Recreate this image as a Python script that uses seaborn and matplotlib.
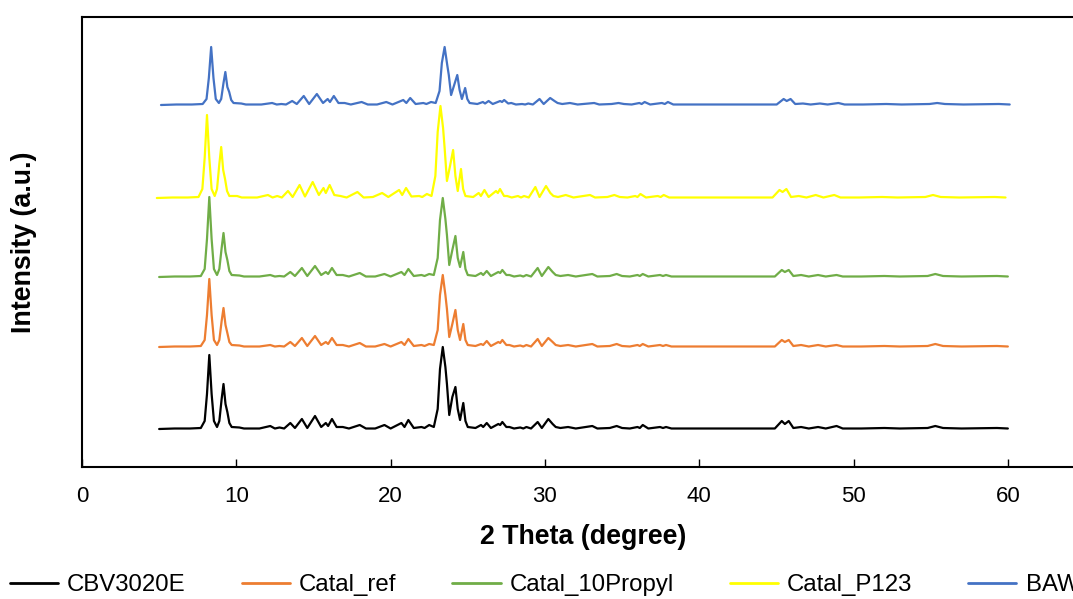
import numpy as np
import pandas as pd
import matplotlib
matplotlib.use('Agg')
import matplotlib.pyplot as plt
import seaborn as sns

THETA = [
    5.0, 6.0, 7.0, 7.7,
    7.95, 8.1, 8.25, 8.4, 8.55, 8.75, 8.9, 9.05, 9.17, 9.3, 9.42, 9.55, 9.7,
    10.2, 10.5, 11.5, 12.2, 12.5, 12.8, 13.1, 13.5, 13.8, 14.25, 14.6, 15.1, 15.5, 15.8, 15.95, 16.2,
    16.5, 16.9, 17.3, 18.0, 18.4, 19.0, 19.6, 20.0, 20.7, 20.9, 21.15, 21.5, 22.0, 22.2, 22.5, 22.8,
    23.05, 23.2, 23.38, 23.55, 23.65, 23.8, 24.0, 24.2, 24.35, 24.5, 24.71, 24.85, 25.0,
    25.5, 25.86, 26.0, 26.23, 26.5, 26.98, 27.1, 27.24, 27.5, 27.7, 28.0, 28.4, 28.6, 28.8, 29.1, 29.53,
    29.8, 30.22, 30.5, 30.7, 31.0, 31.5, 32.0, 33.07, 33.4, 34.2, 34.65, 35.0, 35.5, 36.0, 36.15, 36.34,
    36.7, 37.46, 37.65, 37.85, 38.2,
    41.0, 44.9, 45.35, 45.55, 45.8, 46.1, 46.6, 47.1, 47.7, 48.2, 48.9, 49.3, 50.5, 52.0, 53.0, 54.8,
    55.3, 55.8, 57.0, 59.3, 60.0,
]

CBV3020E = [
    0, 0.5, 0.5, 1,
    8, 35, 74, 35, 8, 2, 8, 30, 45, 25, 17, 6, 2,
    1.5, 0.5, 0.5, 3, 0.5, 1.5, 0.5, 6, 1, 10, 1, 13, 2, 6, 3, 10,
    2, 2, 0.5, 4, 0.5, 0.5, 4, 0.5, 6, 2, 9, 1, 2, 1, 4, 2,
    20, 60, 82, 62, 45, 14, 32, 42, 20, 9, 26, 8, 2,
    1, 4, 2, 6, 1, 5, 4, 7, 2, 2, 0.5, 1.5, 0.5, 2, 0.5, 7,
    1, 10, 5, 2, 1, 2, 0.5, 3, 0.5, 1, 3, 1, 0.5, 2, 1, 4,
    0.5, 2, 1, 2, 0.5,
    0.5, 0.5, 8, 5, 8, 1, 2, 0.5, 2, 0.5, 3, 0.5, 0.5, 1, 0.5, 1,
    3, 1, 0.5, 1, 0.5,
]

CATAL_REF = [
    0, 0.5, 0.5, 1,
    7, 32, 68, 32, 7, 2, 7, 26, 39, 22, 14, 5, 2,
    1.5, 0.5, 0.5, 2, 0.5, 1, 0.5, 5, 1, 9, 1, 11, 2, 5, 3, 9,
    2, 2, 0.5, 4, 0.5, 0.5, 3, 0.5, 5, 2, 8, 1, 2, 1, 3, 2,
    17, 52, 72, 52, 38, 10, 23, 37, 17, 7, 23, 7, 2,
    1, 3, 2, 6, 1, 5, 4, 7, 2, 2, 0.5, 1.5, 0.5, 2, 0.5, 8,
    1, 9, 5, 2, 1, 2, 0.5, 3, 0.5, 1, 3, 1, 0.5, 2, 1, 3,
    0.5, 2, 1, 2, 0.5,
    0.5, 0.5, 7, 5, 7, 1, 2, 0.5, 2, 0.5, 2, 0.5, 0.5, 1, 0.5, 1,
    3, 1, 0.5, 1, 0.5,
]

CATAL_10PROPYL = [
    0, 0.5, 0.5, 1,
    8, 38, 80, 38, 8, 2, 8, 29, 44, 25, 17, 6, 2,
    1.5, 0.5, 0.5, 2, 0.5, 1, 0.5, 5, 1, 9, 1, 11, 2, 5, 3, 9,
    2, 2, 0.5, 4, 0.5, 0.5, 3, 0.5, 5, 2, 8, 1, 2, 1, 3, 2,
    19, 57, 79, 58, 42, 12, 27, 41, 19, 10, 25, 8, 2,
    1, 4, 2, 6, 1, 5, 4, 7, 2, 2, 0.5, 1.5, 0.5, 2, 0.5, 9,
    1, 10, 5, 2, 1, 2, 0.5, 3, 0.5, 1, 3, 1, 0.5, 2, 1, 3,
    0.5, 2, 1, 2, 0.5,
    0.5, 0.5, 7, 5, 7, 1, 2, 0.5, 2, 0.5, 2, 0.5, 0.5, 1, 0.5, 1,
    3, 1, 0.5, 1, 0.5,
]

CATAL_P123 = [
    0, 0.5, 0.5, 1,
    9, 40, 83, 40, 9, 2, 9, 34, 51, 28, 19, 7, 2,
    2, 0.5, 0.5, 3, 0.5, 2, 0.5, 7, 1, 13, 1.5, 16, 3, 10, 5, 13,
    3, 2, 0.5, 6, 0.5, 1, 5, 1, 8, 3, 10, 1.5, 2, 1, 4, 2,
    22, 66, 92, 70, 50, 17, 32, 48, 22, 7, 29, 9, 2,
    1, 5, 2, 8, 1, 7, 5, 9, 2, 2, 0.5, 2, 0.5, 2, 0.5, 11,
    1, 12, 5, 2, 1, 3, 0.5, 3, 0.5, 1, 3, 1, 0.5, 2, 1, 4,
    0.5, 2, 1, 3, 0.5,
    0.5, 0.5, 8, 6, 9, 1, 2, 0.5, 3, 0.5, 3, 0.5, 0.5, 1, 0.5, 1,
    3, 1, 0.5, 1, 0.5,
]

BAW = [
    0, 0.5, 0.5, 1,
    6, 27, 58, 27, 6, 2, 6, 22, 33, 18, 13, 5, 2,
    1.5, 0.5, 0.5, 2, 0.5, 1, 0.5, 4, 1, 9, 1, 11, 2, 6, 3, 9,
    2, 2, 0.5, 3, 0.5, 0.5, 3, 0.5, 5, 2, 7, 1, 2, 1, 3, 2,
    14, 42, 58, 40, 30, 10, 20, 30, 15, 6, 17, 6, 2,
    1, 3, 1.5, 4, 1, 4, 3, 5, 1.5, 2, 0.5, 1, 0.5, 1.5, 0.5, 6,
    1, 7, 4, 2, 1, 2, 0.5, 2, 0.5, 1, 2, 1, 0.5, 2, 1, 3,
    0.5, 2, 1, 3, 0.5,
    0.5, 0.5, 6, 4, 6, 1, 1.5, 0.5, 1.5, 0.5, 2, 0.5, 0.5, 1, 0.5, 1,
    2, 1, 0.5, 1, 0.5,
]

SAMPLES = ['CBV3020E', 'Catal_ref', 'Catal_10Propyl', 'Catal_P123', 'BAW']
PATTERNS = [CBV3020E, CATAL_REF, CATAL_10PROPYL, CATAL_P123, BAW]
# vertical stacking offset of each pattern (a.u.)
OFFSETS = [38, 120, 190, 269, 362]
# peak displacement of each pattern relative to the grid (degree)
SHIFTS = [0.0, 0.0, 0.0, -0.15, 0.12]
COLORS = ['#000000', '#ED7D31', '#70AD47', '#FFFF00', '#4472C4']

frames = []
for name, vals, off, sh in zip(SAMPLES, PATTERNS, OFFSETS, SHIFTS):
    assert len(vals) == len(THETA), name
    frames.append(pd.DataFrame({
        'theta': np.array(THETA) + sh,
        'signal': np.array(vals, dtype=float) + off,
        'sample': name,
    }))
df = pd.concat(frames, ignore_index=True)

sns.set_theme(style='ticks')
plt.rcParams['font.family'] = ['Liberation Sans', 'DejaVu Sans']
plt.rcParams['text.color'] = 'black'
plt.rcParams['axes.labelcolor'] = 'black'

fig = plt.figure(figsize=(10.73, 5.99), dpi=100)
# plot area runs past the right edge of the canvas, as in the original export
ax = fig.add_axes([82 / 1073, 132 / 599, 1003 / 1073, 450 / 599])

sns.lineplot(data=df, x='theta', y='signal', hue='sample', hue_order=SAMPLES,
             palette=dict(zip(SAMPLES, COLORS)), sort=False, estimator=None,
             linewidth=1.6, ax=ax)
handles, labels = ax.get_legend_handles_labels()
ax.get_legend().remove()

ax.set_xlim(0, 65)
ax.set_ylim(0, 450)
ax.set_xticks(range(0, 70, 10))
ax.set_yticks([])
ax.tick_params(axis='x', direction='in', length=6, width=1, labelsize=16,
               pad=14, colors='black')
for side in ['left', 'bottom', 'top', 'right']:
    ax.spines[side].set_linewidth(1.5)
    ax.spines[side].set_color('black')

ax.set_xlabel('2 Theta (degree)', fontsize=19.3, fontweight='bold', labelpad=12, color='black')
ax.set_ylabel('Intensity (a.u.)', fontsize=19.3, fontweight='bold', color='black')
ax.yaxis.set_label_coords(-0.045, 0.5)

for h in handles:
    h.set_linewidth(2)
leg = fig.legend(handles, labels, loc='center left', bbox_to_anchor=(10 / 1073, 14 / 599),
                 ncol=5, frameon=False, fontsize=17.3, handlelength=2.0, handletextpad=0.38,
                 columnspacing=2.33, borderaxespad=0, borderpad=0)
for t in leg.get_texts():
    t.set_color('black')

fig.savefig('out.png', dpi=100)
